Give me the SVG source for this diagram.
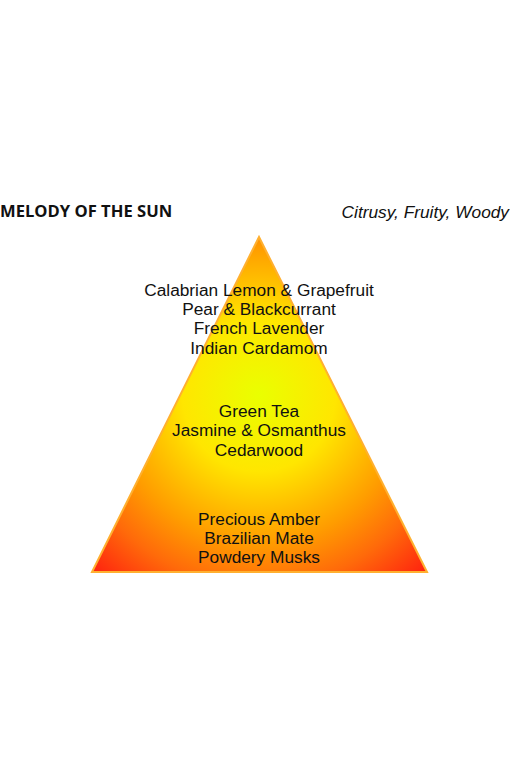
<svg xmlns="http://www.w3.org/2000/svg" width="510" height="765" viewBox="0 0 510 765">
  <style>
    .notes { font-family: "Liberation Sans", Arial, sans-serif; font-size: 17.3px; fill: #111; text-anchor: middle; }
    .title { font-family: "Open Sans", "DejaVu Sans", sans-serif; font-size: 16.6px; font-weight: bold; fill: #111; }
    .sub { font-family: "Liberation Sans", Arial, sans-serif; font-size: 17.3px; font-style: italic; fill: #111; text-anchor: end; }
  </style>
  <defs>
    <radialGradient id="pyr" gradientUnits="userSpaceOnUse" cx="259" cy="395" r="255">
      <stop offset="0" stop-color="#eaff00"/>
      <stop offset="0.3" stop-color="#ffe600"/>
      <stop offset="0.58" stop-color="#ff9c00"/>
      <stop offset="0.75" stop-color="#ff6a0a"/>
      <stop offset="1" stop-color="#ff1010"/>
    </radialGradient>
  </defs>
  <rect width="510" height="765" fill="#ffffff"/>
  <g id="header">
    <text class="title" x="0" y="217">MELODY OF THE SUN</text>
    <text class="sub" x="509" y="218">Citrusy, Fruity, Woody</text>
  </g>
  <g id="pyramid">
    <polygon points="259,237 427,572 92,572" fill="url(#pyr)" stroke="#ffb030" stroke-width="2" stroke-linejoin="miter"/>
  </g>
  <g id="top-notes">
    <text class="notes" x="259" y="296">Calabrian Lemon &amp; Grapefruit</text>
    <text class="notes" x="259" y="315">Pear &amp; Blackcurrant</text>
    <text class="notes" x="259" y="334">French Lavender</text>
    <text class="notes" x="259" y="354">Indian Cardamom</text>
  </g>
  <g id="heart-notes">
    <text class="notes" x="259" y="417">Green Tea</text>
    <text class="notes" x="259" y="436">Jasmine &amp; Osmanthus</text>
    <text class="notes" x="259" y="456">Cedarwood</text>
  </g>
  <g id="base-notes">
    <text class="notes" x="259" y="525">Precious Amber</text>
    <text class="notes" x="259" y="544">Brazilian Mate</text>
    <text class="notes" x="259" y="563">Powdery Musks</text>
  </g>
</svg>
